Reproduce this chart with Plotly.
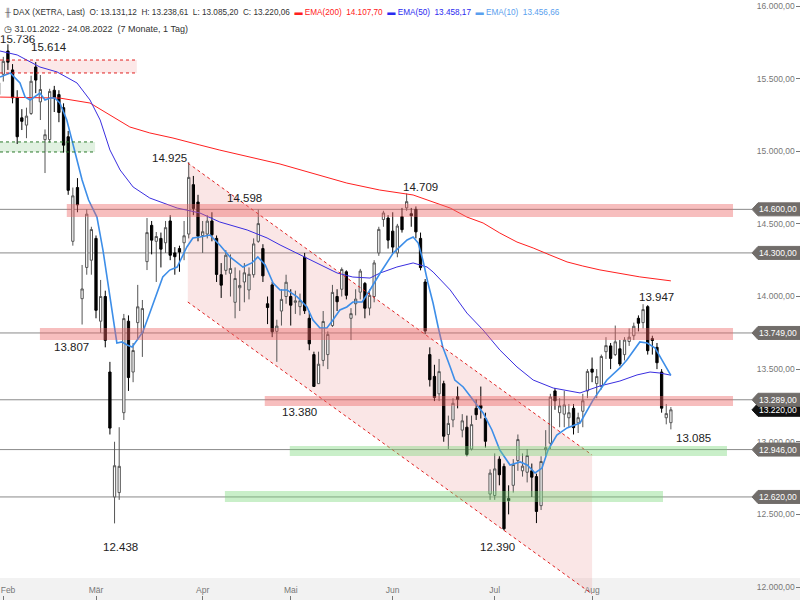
import plotly.graph_objects as go

# ---------------- data (trading-day index 0 = 31.01.2022 ... 145 = 24.08.2022) -------------
opens = [15390, 15530, 15690, 15560, 15370, 15230, 15180, 15260, 15580, 15340,
         15080, 15080, 15420, 15390, 15300, 15100, 14380, 14750, 13985, 14200,
         14250, 14400, 13830, 14000, 13480, 12620, 12650, 13200, 13830, 13480,
         13820, 13750, 14240, 14490, 14380, 14400, 14370, 14520, 14300, 14330,
         14370, 14430, 14770, 14650, 14420, 14430, 14520, 14400, 14150, 14180,
         14160, 13960, 14060, 14100, 14045, 14150, 14380, 14330, 13950, 14080,
         13760, 13900, 14000, 14000, 13960, 13930, 14270, 13850, 13600, 13400,
         13560, 13600, 13800, 14000, 14050, 14170, 13850, 13950, 14030, 14090,
         13920, 14000, 14300, 14530, 14540, 14450, 14300, 14550, 14610, 14570,
         14600, 14400, 14100, 13600, 13450, 13330, 13400, 13050, 13150, 13310,
         13080, 13100, 12950, 13230, 13250, 13160, 12640, 12630, 12880, 12830,
         12610, 12700, 12870, 12800, 12790, 12800, 12760, 12560, 12945, 12990,
         13350, 13200, 13190, 13165, 13230, 13130, 13210, 13350, 13500, 13400,
         13380, 13620, 13660, 13600, 13640, 13600, 13690, 13730, 13850, 13820,
         13930, 13710, 13650, 13480, 13165, 13131.12]
highs = [15520, 15650, 15736, 15600, 15420, 15290, 15300, 15520, 15614, 15525,
         15150, 15430, 15450, 15420, 15330, 15140, 14750, 14815, 14217, 14600,
         14480, 14420, 14114, 14040, 13550, 13000, 13100, 13880, 13870, 13680,
         14080, 13976, 14540, 14520, 14444, 14440, 14520, 14560, 14340, 14350,
         14520, 14925, 14830, 14700, 14520, 14560, 14580, 14420, 14230, 14320,
         14290, 14200, 14180, 14230, 14200, 14400, 14598, 14360, 14000, 14100,
         13840, 14050, 14150, 14050, 14040, 14020, 14300, 13900, 13620, 13620,
         13900, 13760, 14080, 14050, 14200, 14180, 13920, 14050, 14190, 14100,
         14050, 14250, 14480, 14590, 14560, 14580, 14500, 14610, 14709, 14610,
         14620, 14440, 14120, 13650, 13530, 13570, 13420, 13180, 13300, 13380,
         13190, 13180, 13180, 13290, 13380, 13200, 12810, 12920, 12900, 12850,
         12700, 12880, 13050, 12920, 12950, 12850, 12780, 12900, 13080, 13330,
         13370, 13300, 13350, 13260, 13260, 13200, 13330, 13500, 13580, 13500,
         13600, 13720, 13680, 13800, 13700, 13720, 13780, 13820, 13870, 13947,
         13940, 13730, 13680, 13500, 13260, 13238.61]
lows = [15320, 15480, 15560, 15330, 15050, 15146, 15090, 15250, 15400, 15215,
        14850, 15060, 15270, 15200, 14990, 14700, 14350, 14580, 13807, 14150,
        14150, 13850, 13750, 13650, 13050, 12438, 12600, 13150, 13350, 13410,
        13700, 13584, 14182, 14290, 14100, 14200, 14300, 14250, 14150, 14170,
        14250, 14400, 14560, 14380, 14300, 14400, 14380, 14100, 13990, 14150,
        14000, 13850, 13900, 13960, 13980, 14130, 14370, 14100, 13810, 13720,
        13550, 13800, 13950, 13800, 13880, 13870, 13880, 13630, 13380, 13400,
        13520, 13500, 13790, 13900, 14000, 13980, 13700, 13870, 13980, 13850,
        13870, 13960, 14280, 14480, 14330, 14300, 14270, 14440, 14590, 14480,
        14400, 14180, 13740, 13380, 13280, 13280, 13000, 12950, 13100, 13230,
        13030, 12900, 12940, 13150, 13160, 12960, 12600, 12600, 12700, 12390,
        12500, 12650, 12800, 12760, 12720, 12620, 12440, 12530, 12900, 12950,
        13220, 13100, 13100, 13100, 13050, 13060, 13100, 13300, 13410, 13300,
        13360, 13570, 13500, 13590, 13520, 13560, 13660, 13700, 13760, 13780,
        13600, 13600, 13500, 13200, 13120, 13085.20]
closes = [15471, 15619, 15613, 15368, 15100, 15206, 15242, 15482, 15490, 15425,
          15114, 15412, 15370, 15267, 15042, 14731, 14693, 14631, 14052, 14567,
          14461, 13905, 14000, 13698, 13094, 12835, 12831, 13848, 13442, 13628,
          13929, 13917, 14440, 14388, 14413, 14326, 14474, 14284, 14274, 14306,
          14418, 14820, 14606, 14415, 14446, 14519, 14425, 14152, 14078, 14284,
          14193, 14124, 14076, 14163, 14153, 14362, 14502, 14142, 13924, 13757,
          13796, 13980, 14098, 13940, 13970, 13971, 13902, 13674, 13381, 13534,
          13828, 13739, 14028, 13964, 14186, 14008, 13882, 13982, 14175, 13919,
          14008, 14231, 14462, 14575, 14388, 14340, 14485, 14460, 14653, 14556,
          14445, 14199, 13762, 13427, 13304, 13483, 13038, 13126, 13265, 13292,
          13144, 12912, 13118, 13186, 13231, 13003, 12784, 12813, 12773, 12401,
          12595, 12843, 13015, 12832, 12905, 12756, 12520, 12864, 12959, 13308,
          13282, 13247, 13254, 13200, 13097, 13166, 13282, 13484, 13479, 13449,
          13587, 13662, 13574, 13688, 13535, 13700, 13720, 13795, 13816, 13910,
          13627, 13697, 13544, 13231, 13194, 13220.06]
day_index = list(range(len(closes)))

month_ticks = [1, 21, 44, 63, 85, 107, 128]
month_labels = ["\u00a0\u00a0\u00a0\u00a0Feb", "Mär", "Apr", "Mai", "Jun", "Jul", "Aug"]

# moving averages (index, value)
ema200_x = [0.3, 13.2, 19.7, 28.3, 32.6, 37.6, 43.4, 47.7, 60.7, 67.8, 75.1, 82.2, 89.4,
            97.4, 101, 104.5, 108.1, 111.8, 115.3, 118.9, 122.6, 126, 129.7, 138.3, 145]
ema200_y = [15373, 15366, 15332, 15167, 15126, 15091, 15043, 15008, 14912, 14850, 14781,
            14733, 14699, 14609, 14547, 14506, 14437, 14375, 14334, 14286, 14238, 14210,
            14183, 14135, 14107.70]
ema50_x = [0.3, 1.4, 4.0, 8.9, 12.6, 16.9, 19.7, 21.9, 24.0, 26.2, 29.0, 32.6, 38.5, 43.4,
           47.7, 53.6, 57.9, 60.7, 65.0, 69.3, 73.0, 76.4, 80.1, 82.3, 85.9, 89.4, 92.4,
           93.7, 97.4, 101.0, 104.5, 108.1, 111.8, 115.3, 119.6, 125.4, 129.7, 134.0,
           137.7, 140.5, 142.7, 145]
ema50_y = [15690, 15683, 15663, 15580, 15546, 15470, 15353, 15215, 15009, 14871, 14754,
           14678, 14609, 14575, 14513, 14458, 14403, 14355, 14286, 14217, 14162, 14134,
           14127, 14162, 14203, 14231, 14203, 14169, 14045, 13886, 13769, 13632, 13515,
           13425, 13370, 13336, 13384, 13418, 13460, 13480, 13473, 13458.17]
ema10_x = [0.3, 2.5, 4.6, 5.7, 6.8, 7.8, 8.9, 10.0, 11.1, 12.1, 13.2, 14.7, 15.8, 16.9,
           18.0, 19.4, 21.2, 22.5, 23.6, 24.7, 25.5, 26.6, 27.7, 28.8, 29.8, 31.1, 32.6,
           34.2, 35.4, 36.9, 38.5, 40.6, 41.9, 43.4, 45.6, 47.7, 49.9, 52.7, 54.6, 55.9,
           57.5, 59.2, 60.7, 62.2, 64.4, 66.5, 67.8, 69.3, 70.8, 72.1, 73.6, 75.1, 76.4,
           78.4, 80.1, 82.3, 85.1, 88.1, 89.4, 90.5, 91.5, 92.6, 93.7, 94.8, 95.8, 97.4,
           98.4, 100.2, 102.3, 104.5, 106.4, 108.1, 110.3, 112.5, 114.0, 115.7, 117.2,
           118.5, 120.4, 122.6, 125.4, 128.2, 131.2, 134.0, 135.5, 138.3, 139.9, 141.6, 145]
ema10_y = [15511, 15539, 15470, 15373, 15353, 15373, 15401, 15353, 15367, 15367, 15332,
           15215, 15077, 14960, 14802, 14664, 14547, 14320, 14093, 13859, 13680, 13687,
           13666, 13652, 13700, 13756, 13886, 14024, 14134, 14182, 14203, 14341, 14403,
           14410, 14423, 14355, 14272, 14203, 14231, 14272, 14217, 14093, 14045, 14045,
           13997, 13928, 13838, 13783, 13783, 13838, 13907, 13928, 13962, 13962, 14045,
           14162, 14299, 14389, 14410, 14368, 14251, 14093, 13955, 13790, 13652, 13515,
           13425, 13377, 13287, 13198, 13081, 12943, 12840, 12861, 12840, 12785, 12819,
           12943, 13046, 13095, 13129, 13287, 13425, 13508, 13563, 13687, 13680, 13645,
           13456.66]

# horizontal levels with price tags
level_values = [14600, 14300, 13749, 13289, 12946, 12620]
last_close_tag = 13220
# bands: (x from, x to, y low, y high)
red_bands = [(14.7, 158.4, 14547, 14637), (8.9, 158.4, 13700, 13783), (57.4, 158.4, 13246, 13315)]
green_bands = [(62.8, 157.1, 12902, 12971), (48.8, 143.3, 12585, 12661)]
red_zone = (0.29, 29.8, 15539, 15628)
green_zone = (0.29, 20.8, 14995, 15064)
# descending channel
channel_x = [40.8, 128.0]
channel_upper = [14919, 12909]
channel_lower = [13962, 11952]

# swing labels
swing_text = ["15.736", "15.614", "14.925", "14.598", "14.709", "13.807", "13.380",
              "12.438", "12.390", "13.947", "13.085"]
swing_x = [3.96, 10.9, 36.9, 53.1, 90.9, 15.8, 64.8, 26.2, 107.5, 142.0, 149.8]
swing_y = [15773, 15718, 14954, 14678, 14754, 13652, 13205, 12275, 12275, 13997, 13026]

FONT = "Liberation Sans, Arial, sans-serif"
X_RANGE = [0.291, 172.85]
Y_RANGE = [11910.5, 16041.3]

fig = go.Figure()

fig.add_trace(go.Candlestick(
    x=day_index, open=opens, high=highs, low=lows, close=closes,
    increasing=dict(line=dict(color="#555555", width=1), fillcolor="#ffffff"),
    decreasing=dict(line=dict(color="#000000", width=1), fillcolor="#000000"),
    whiskerwidth=0, hoverinfo="skip"))

fig.add_trace(go.Scatter(x=ema200_x, y=ema200_y, mode="lines",
                         line=dict(color="#ff2020", width=1), hoverinfo="skip"))
fig.add_trace(go.Scatter(x=ema50_x, y=ema50_y, mode="lines",
                         line=dict(color="#3a2ee0", width=1), hoverinfo="skip"))
fig.add_trace(go.Scatter(x=ema10_x, y=ema10_y, mode="lines",
                         line=dict(color="#3d8ee8", width=1.6), hoverinfo="skip"))

shapes = []
# bottom strip
shapes.append(dict(type="rect", xref="paper", yref="paper", x0=0, x1=1, y0=0, y1=22 / 600,
                   fillcolor="#f2f2f2", line=dict(width=0), layer="below"))
# channel
shapes.append(dict(type="path", xref="x", yref="y", layer="below",
                   path=f"M {channel_x[0]},{channel_upper[0]} L {channel_x[1]},{channel_upper[1]} "
                        f"L {channel_x[1]},{channel_lower[1]} L {channel_x[0]},{channel_lower[0]} Z",
                   fillcolor="rgba(235,150,150,0.24)", line=dict(width=0)))
for ys in (channel_upper, channel_lower):
    shapes.append(dict(type="line", xref="x", yref="y", x0=channel_x[0], x1=channel_x[1],
                       y0=ys[0], y1=ys[1], line=dict(color="#e02020", width=1, dash="dot"),
                       layer="above"))
# gray level lines
for v in level_values:
    shapes.append(dict(type="line", xref="paper", yref="y", x0=0, x1=752 / 800, y0=v, y1=v,
                       line=dict(color="#8a8a8a", width=1), layer="below"))
# dotted zones
for (xa, xb, ya, yb), fillc, linec in [(red_zone, "rgba(240,130,130,0.18)", "#e02020"),
                                        (green_zone, "rgba(120,190,120,0.22)", "#2a7a2a")]:
    shapes.append(dict(type="rect", xref="x", yref="y", x0=xa, x1=xb, y0=ya, y1=yb,
                       fillcolor=fillc, line=dict(width=0), layer="below"))
    for yy in (ya, yb):
        shapes.append(dict(type="line", xref="x", yref="y", x0=xa, x1=xb, y0=yy, y1=yy,
                           line=dict(color=linec, width=1, dash="dot"), layer="above"))
# bands
for xa, xb, ya, yb in red_bands:
    shapes.append(dict(type="rect", xref="x", yref="y", x0=xa, x1=xb, y0=ya, y1=yb,
                       fillcolor="rgba(236,100,100,0.42)", line=dict(width=0), layer="above"))
for xa, xb, ya, yb in green_bands:
    shapes.append(dict(type="rect", xref="x", yref="y", x0=xa, x1=xb, y0=ya, y1=yb,
                       fillcolor="rgba(120,215,120,0.40)", line=dict(width=0), layer="above"))

annotations = []
# price tags at the right edge
half = 6.5 / 0.14525
tip, body0 = 752 / 800, 758 / 800
tags = [(last_close_tag, "#111111")] + [(v, "#716d6a") for v in level_values]
for v, col in tags:
    shapes.append(dict(type="path", xref="paper", yref="y", layer="above",
                       path=f"M {tip},{v} L {body0},{v + half} L 1,{v + half} L 1,{v - half} L {body0},{v - half} Z",
                       fillcolor=col, line=dict(color=col, width=1)))
    txt = f"{v:,.2f}".replace(",", "X").replace(".", ",").replace("X", ".")
    annotations.append(dict(xref="paper", yref="y", x=778 / 800, y=v, text=txt, showarrow=False,
                            font=dict(family=FONT, size=8.5, color="#ffffff"),
                            xanchor="center", yanchor="middle"))

for t, xx, yy in zip(swing_text, swing_x, swing_y):
    annotations.append(dict(xref="x", yref="y", x=xx, y=yy, text=t, showarrow=False,
                            font=dict(family=FONT, size=11.5, color="#222222"),
                            xanchor="center", yanchor="middle"))

nb = "\u00a0"
line1 = (f"<span style='color:#555'>╫</span>{nb}DAX (XETRA, Last){nb} O: 13.131,12{nb} H: 13.238,61{nb} "
         f"L: 13.085,20{nb} C: 13.220,06{nb} "
         f"<span style='color:#ff2020'>▬{nb}EMA(200){nb} 14.107,70</span>{nb} "
         f"<span style='color:#2a2af0'>▬{nb}EMA(50){nb} 13.458,17</span>{nb} "
         f"<span style='color:#5aa0ee'>▬{nb}EMA(10){nb} 13.456,66</span>")
line2 = f"◷{nb}31.01.2022 - 24.08.2022{nb} (7 Monate, 1 Tag)"
annotations.append(dict(xref="paper", yref="paper", x=2 / 800, y=1 - 12 / 600, text=line1,
                        showarrow=False, xanchor="left", yanchor="middle",
                        font=dict(family=FONT, size=8.2, color="#333333")))
annotations.append(dict(xref="paper", yref="paper", x=2 / 800, y=1 - 29 / 600, text=line2,
                        showarrow=False, xanchor="left", yanchor="middle",
                        bgcolor="rgba(255,255,255,0.8)",
                        font=dict(family=FONT, size=9, color="#333333")))

fig.update_layout(
    width=800, height=600, margin=dict(l=0, r=0, t=0, b=0, autoexpand=False),
    plot_bgcolor="#ffffff", paper_bgcolor="#ffffff", showlegend=False,
    separators=",.", font=dict(family=FONT),
    shapes=shapes, annotations=annotations,
    xaxis=dict(range=X_RANGE, rangeslider=dict(visible=False), showgrid=False, zeroline=False,
               automargin=False,
               tickvals=month_ticks, ticktext=month_labels, ticks="inside", ticklen=4,
               tickcolor="#777777", ticklabelposition="inside", ticklabeloverflow="allow",
               tickfont=dict(family=FONT, size=8.5, color="#777777"), showline=False),
    yaxis=dict(range=Y_RANGE, side="right", showgrid=False, zeroline=False, automargin=False,
               tickvals=[12000, 12500, 13000, 13500, 14000, 14500, 15000, 15500, 16000],
               tickformat=",.2f", ticks="inside", ticklen=4, tickcolor="#777777",
               ticklabelposition="inside", tickfont=dict(family=FONT, size=8.5, color="#777777"),
               showline=False),
)

fig.write_html("out.html", config={"displayModeBar": False},
               post_script="document.body.style.margin='0';document.body.style.overflow='hidden';")
